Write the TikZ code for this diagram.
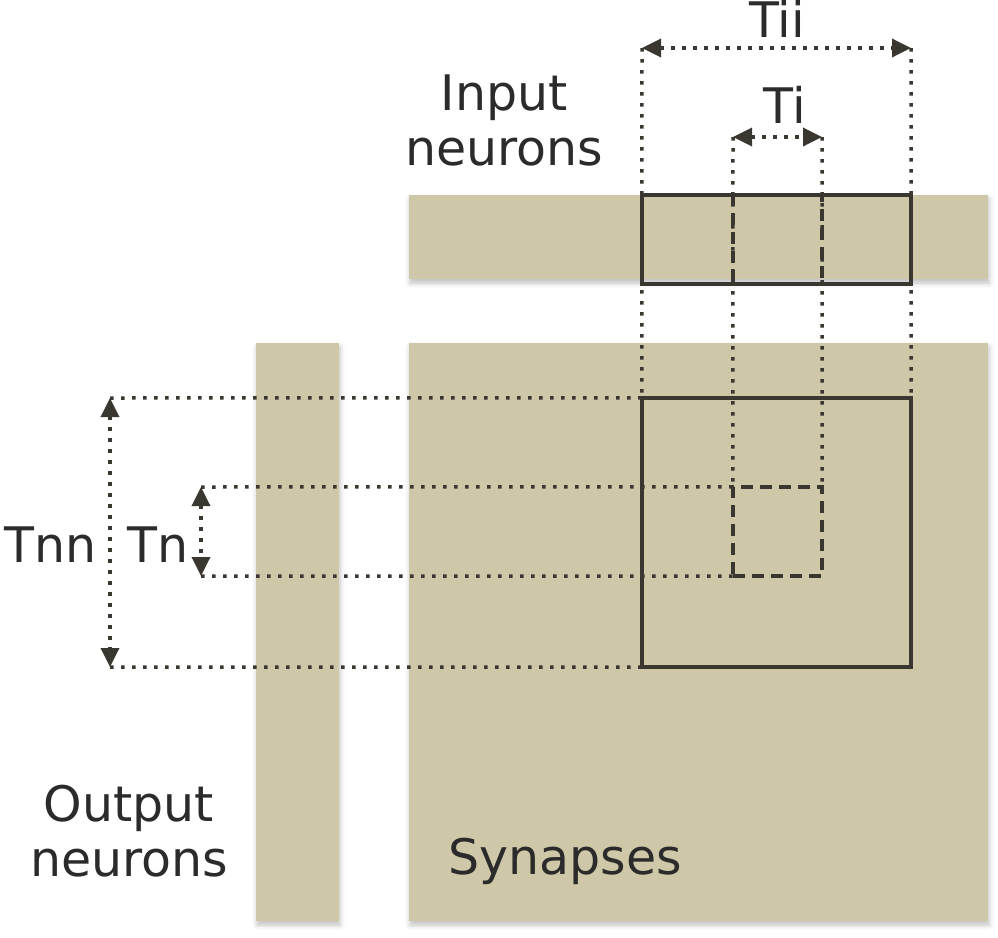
\documentclass[tikz,border=0pt]{standalone}
\usepackage{fontspec}
\setmainfont{DejaVu Sans}
\usetikzlibrary{arrows.meta,shadows.blur}
\definecolor{sandfill}{HTML}{CFC8A8}
\definecolor{inkline}{HTML}{3A3730}
\definecolor{inktext}{HTML}{2B2B2B}
\tikzset{
  bar/.style={fill=sandfill,draw=none,inner sep=0pt,
    blur shadow={shadow xshift=1pt,shadow yshift=-4pt,shadow blur radius=5pt,shadow opacity=25}},
  tilebox/.style={draw=inkline,line width=3.5pt,inner sep=0pt},
  subbox/.style={draw=inkline,line width=3.5pt,dash pattern=on 12pt off 7pt,inner sep=0pt},
  guide/.style={inkline,line width=3.5pt,dash pattern=on 3.5pt off 7.5pt},
  span/.style={guide,{Triangle[length=19pt,width=18pt]}-{Triangle[length=19pt,width=18pt]}},
  lbl/.style={text=inktext,font=\fontsize{49}{55}\selectfont,align=center,inner sep=0pt}
}
\begin{document}
\begin{tikzpicture}[x=1pt,y=-1pt]
  \useasboundingbox (0,0) rectangle (998,937);
  % storage regions
  \node[bar,minimum width=579pt,minimum height=84pt] (inbar) at (698.5,237) {};
  \node[bar,minimum width=579pt,minimum height=578pt] (synbar) at (698.5,632) {};
  \node[bar,minimum width=83pt,minimum height=578pt] (outbar) at (297.5,632) {};
  % arrow end points
  \coordinate (tii-l) at (642,48);  \coordinate (tii-r) at (911,48);
  \coordinate (ti-l)  at (733,137); \coordinate (ti-r)  at (822,137);
  \coordinate (tnn-t) at (110,398); \coordinate (tnn-b) at (110,667);
  \coordinate (tn-t)  at (201,487); \coordinate (tn-b)  at (201,576);
  % tiles
  \node[minimum size=269pt,inner sep=0pt] (tile) at (776.5,532.5) {};
  \node[minimum size=89pt,inner sep=0pt] (sub) at (777.5,531.5) {};
  % guide lines
  \draw[guide] (tii-l) -- (tile.north west);
  \draw[guide] (tii-r) -- (tile.north east);
  \draw[guide] (ti-l) -- (sub.north west);
  \draw[guide] (ti-r) -- (sub.north east);
  \draw[guide] (tnn-t) -- (tile.north west);
  \draw[guide] (tnn-b) -- (tile.south west);
  \draw[guide] (tn-t) -- (sub.north west);
  \draw[guide] (tn-b) -- (sub.south west);
  % tile outlines
  \node[tilebox,minimum size=269pt] at (tile) {};
  \node[subbox,minimum size=89pt] at (sub) {};
  \node[tilebox,minimum width=269pt,minimum height=89pt] (intile) at (776.5,239.5) {};
  \node[subbox,minimum width=89pt,minimum height=89pt] (insub) at (777.5,239.5) {};
  % spans
  \draw[span] (tii-l) -- (tii-r);
  \draw[span] (ti-l) -- (ti-r);
  \draw[span] (tnn-t) -- (tnn-b);
  \draw[span] (tn-t) -- (tn-b);
  % labels
  \node[lbl,anchor=base] (tii) at (777,37) {Tii};
  \node[lbl,anchor=base] (ti) at (785,123) {Ti};
  \node[lbl,anchor=base] (tnn) at (51,562) {Tnn};
  \node[lbl,anchor=base] (tn) at (158,562) {Tn};
  \node[lbl,anchor=base] (inlbl) at (504,165) {Input\\neurons};
  \node[lbl,anchor=base] (outlbl) at (129,876) {Output\\neurons};
  \node[lbl,anchor=base] (synlbl) at (565,874) {Synapses};
\end{tikzpicture}
\end{document}
